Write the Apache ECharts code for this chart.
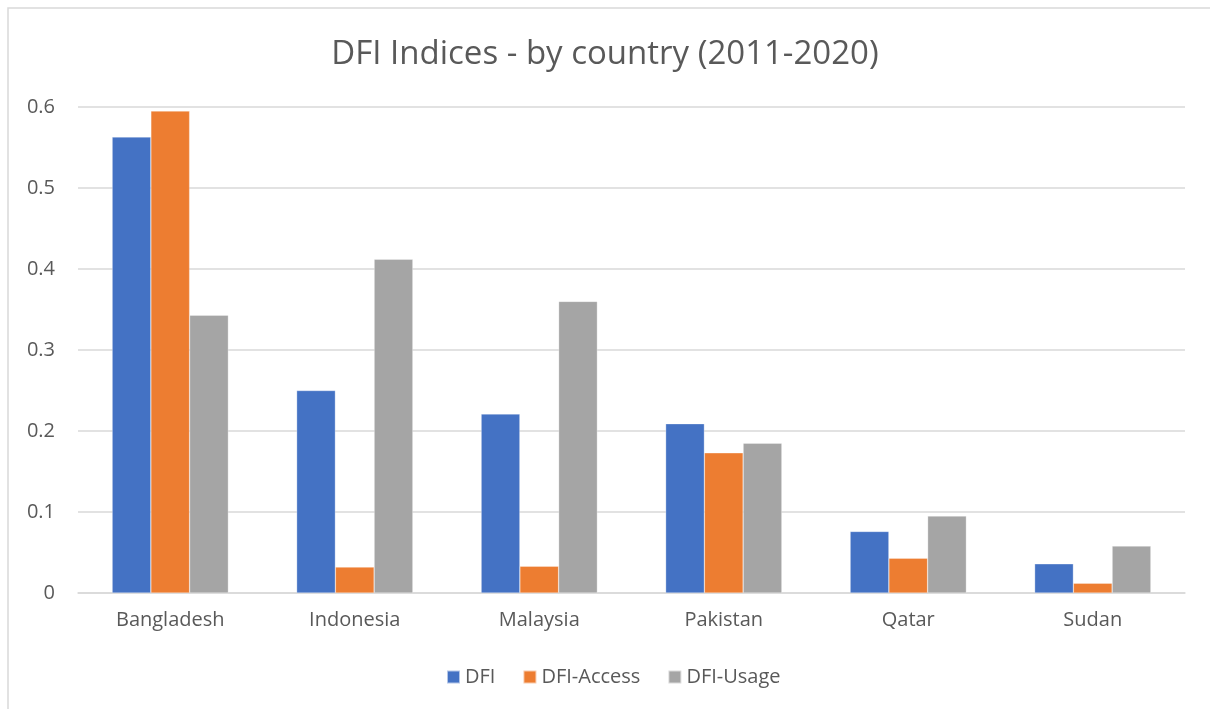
<!DOCTYPE html>
<html>
<head>
<meta charset="utf-8">
<script src="https://cdn.jsdelivr.net/npm/echarts@6/dist/echarts.min.js"></script>
<style>html,body{margin:0;padding:0;background:#fff}#c{width:1210px;height:709px}</style>
</head>
<body>
<div id="c"></div>
<script>
const categories = ['Bangladesh', 'Indonesia', 'Malaysia', 'Pakistan', 'Qatar', 'Sudan'];
const dfi = [0.563, 0.250, 0.221, 0.209, 0.076, 0.036];
const dfiAccess = [0.595, 0.032, 0.033, 0.173, 0.043, 0.012];
const dfiUsage = [0.343, 0.412, 0.360, 0.185, 0.095, 0.058];
const seriesNames = ['DFI', 'DFI-Access', 'DFI-Usage'];
const colors = ['#4472C4', '#ED7D31', '#A5A5A5'];

const chart = echarts.init(document.getElementById('c'));
const font = '"Open Sans", "Liberation Sans", sans-serif';
const mk = (name, data, i) => ({
  name, type: 'bar', data,
  barGap: '0%', barCategoryGap: '37%',
  itemStyle: { color: colors[i], borderColor: 'rgba(255,255,255,0.6)', borderWidth: 0.5 }
});
chart.setOption({
  animation: false,
  textStyle: { fontFamily: font },
  graphic: [{
    type: 'rect', shape: { x: 8, y: 8, width: 1210, height: 710 },
    style: { fill: 'none', stroke: '#D9D9D9', lineWidth: 1.5 }, silent: true
  }],
  title: {
    text: 'DFI Indices - by country (2011-2020)', left: 'center', top: 33,
    textStyle: { fontSize: 33, fontWeight: 'normal', color: '#595959', fontFamily: font }
  },
  legend: {
    data: seriesNames, bottom: 17, left: 441, itemWidth: 13, itemHeight: 13, itemGap: 27,
    icon: 'rect', textStyle: { fontSize: 20, color: '#595959', fontFamily: font }
  },
  grid: { left: 78, right: 25, top: 107, bottom: 116 },
  xAxis: {
    type: 'category', data: categories,
    axisLine: { lineStyle: { color: '#D9D9D9', width: 1.5 } },
    axisTick: { show: false },
    axisLabel: { fontSize: 20, color: '#595959', margin: 17, fontFamily: font }
  },
  yAxis: {
    type: 'value', min: 0, max: 0.6, interval: 0.1,
    axisLine: { show: false }, axisTick: { show: false },
    splitLine: { lineStyle: { color: '#D9D9D9', width: 1.5 } },
    axisLabel: { fontSize: 20, color: '#595959', margin: 23, fontFamily: font,
      formatter: v => (Math.round(v * 10) / 10).toString() }
  },
  series: [mk(seriesNames[0], dfi, 0), mk(seriesNames[1], dfiAccess, 1), mk(seriesNames[2], dfiUsage, 2)]
});
</script>
</body>
</html>
